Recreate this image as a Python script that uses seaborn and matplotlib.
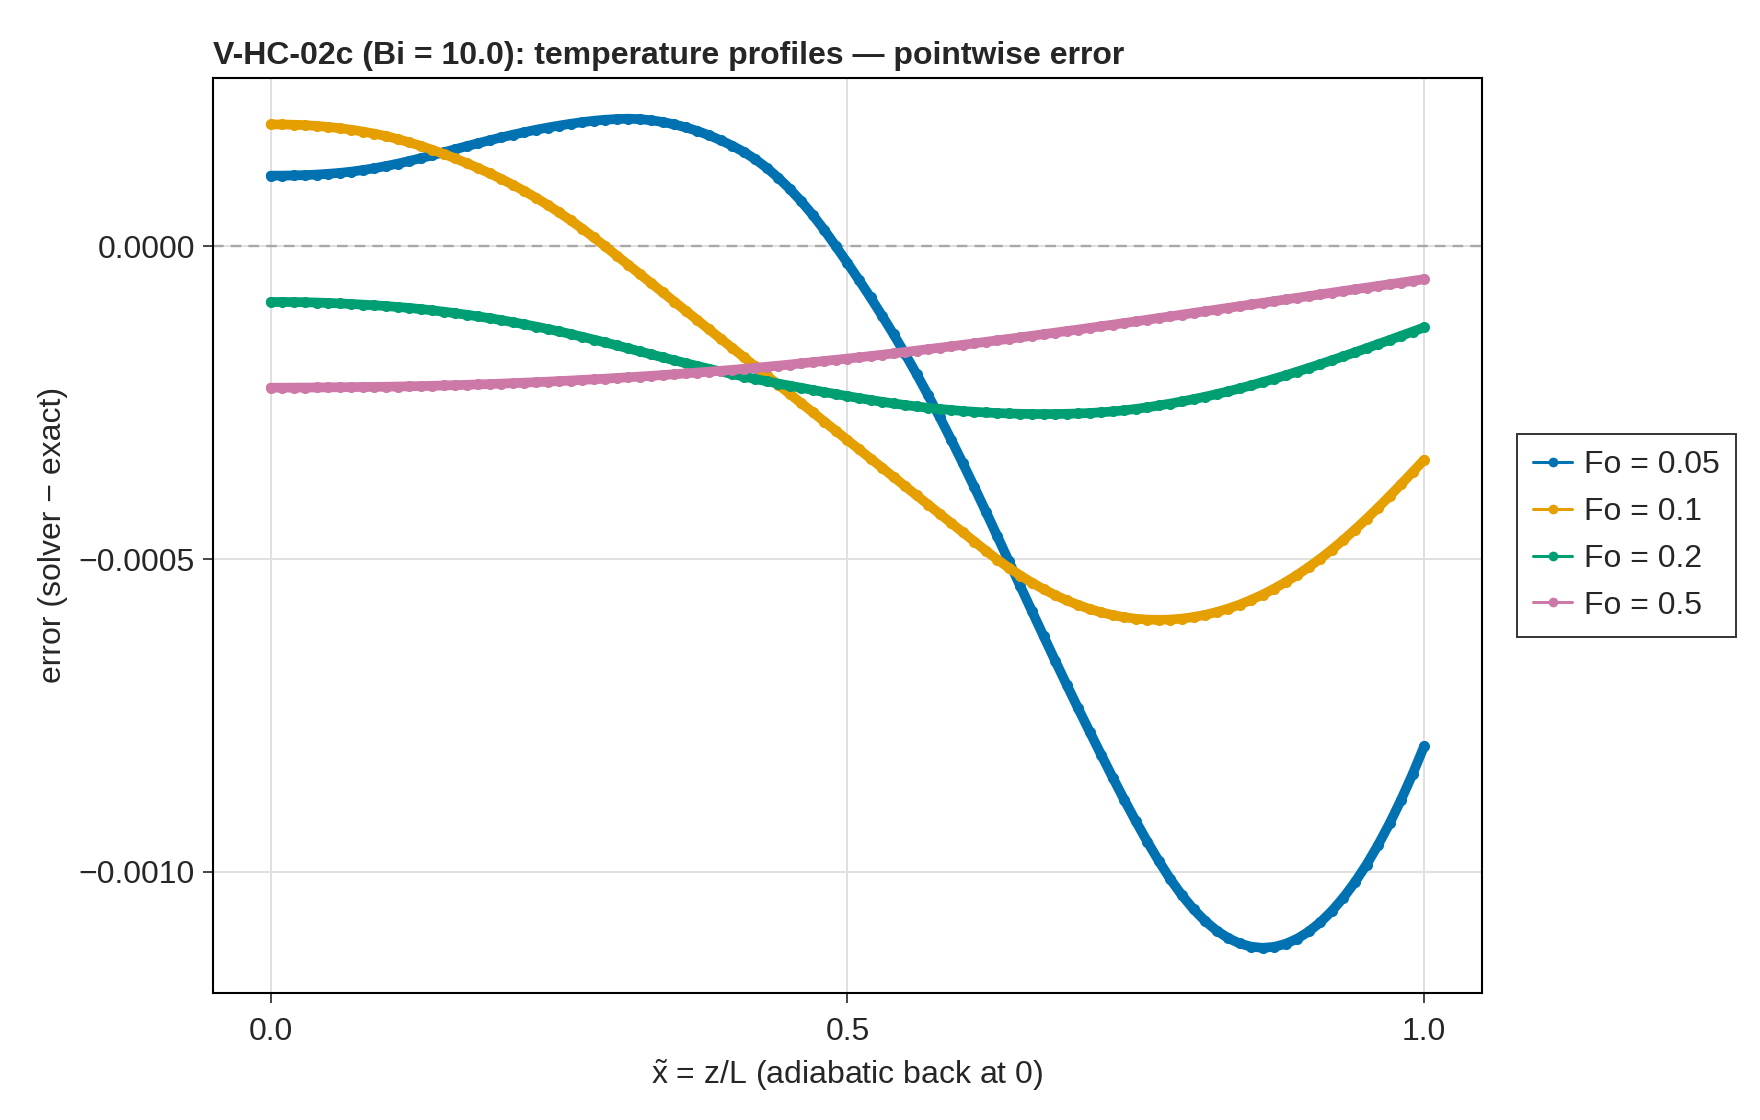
import numpy as np
import pandas as pd
import matplotlib
matplotlib.use("Agg")
import matplotlib.pyplot as plt
from matplotlib.lines import Line2D
import seaborn as sns

FONT_SIZE = 23

# sample positions x~ = z/L (solver grid, 101 nodes)
x_grid = np.round(np.linspace(0.0, 1.0, 101), 2)

# pointwise error (solver - exact), in units of 1e-4
ERR_SCALE = 1e-4

err_fo005 = [
    1.130, 1.131, 1.134, 1.139, 1.148, 1.160, 1.175, 1.195, 1.220, 1.250,
    1.284, 1.322, 1.364, 1.409, 1.456, 1.504, 1.553, 1.602, 1.650, 1.697,
    1.742, 1.785, 1.826, 1.864, 1.899, 1.931, 1.960, 1.986, 2.008, 2.025,
    2.036, 2.041, 2.034, 2.016, 1.988, 1.950, 1.902, 1.844, 1.776, 1.698,
    1.610, 1.512, 1.394, 1.256, 1.097, 0.918, 0.719, 0.500, 0.260, 0.000,
    -0.266, -0.538, -0.818, -1.108, -1.408, -1.720, -2.045, -2.383, -2.733, -3.095,
    -3.468, -3.851, -4.242, -4.639, -5.039, -5.439, -5.837, -6.232, -6.623, -7.009,
    -7.389, -7.762, -8.132, -8.496, -8.851, -9.194, -9.522, -9.832, -10.122, -10.378,
    -10.600, -10.788, -10.942, -11.062, -11.148, -11.200, -11.218, -11.202, -11.153, -11.071,
    -10.956, -10.808, -10.627, -10.413, -10.166, -9.886, -9.573, -9.227, -8.848, -8.436, -7.991,
]

err_fo01 = [
    1.950, 1.949, 1.945, 1.937, 1.925, 1.909, 1.889, 1.865, 1.835, 1.802,
    1.763, 1.716, 1.664, 1.607, 1.545, 1.478, 1.406, 1.330, 1.250, 1.166,
    1.077, 0.983, 0.883, 0.777, 0.664, 0.543, 0.417, 0.284, 0.144, 0.000,
    -0.148, -0.295, -0.443, -0.590, -0.738, -0.885, -1.033, -1.180, -1.328, -1.475,
    -1.623, -1.770, -1.918, -2.065, -2.213, -2.360, -2.508, -2.655, -2.803, -2.950,
    -3.098, -3.245, -3.393, -3.540, -3.688, -3.835, -3.983, -4.130, -4.278, -4.425,
    -4.573, -4.720, -4.867, -5.009, -5.141, -5.265, -5.379, -5.483, -5.577, -5.661,
    -5.735, -5.799, -5.853, -5.897, -5.931, -5.955, -5.969, -5.973, -5.968, -5.953,
    -5.928, -5.893, -5.848, -5.793, -5.728, -5.653, -5.568, -5.473, -5.368, -5.253,
    -5.128, -4.993, -4.848, -4.693, -4.529, -4.357, -4.178, -3.993, -3.803, -3.609, -3.412,
]

err_fo02 = [
    -0.890, -0.890, -0.891, -0.894, -0.899, -0.905, -0.913, -0.922, -0.932, -0.943,
    -0.955, -0.969, -0.985, -1.003, -1.023, -1.045, -1.069, -1.094, -1.121, -1.150,
    -1.180, -1.213, -1.247, -1.283, -1.321, -1.360, -1.402, -1.446, -1.491, -1.537,
    -1.584, -1.632, -1.680, -1.728, -1.776, -1.823, -1.869, -1.914, -1.958, -2.001,
    -2.042, -2.082, -2.121, -2.158, -2.194, -2.228, -2.263, -2.297, -2.331, -2.363,
    -2.395, -2.427, -2.457, -2.486, -2.513, -2.538, -2.561, -2.582, -2.601, -2.618,
    -2.633, -2.646, -2.657, -2.666, -2.673, -2.678, -2.681, -2.682, -2.681, -2.678,
    -2.673, -2.665, -2.654, -2.640, -2.622, -2.600, -2.574, -2.545, -2.514, -2.480,
    -2.444, -2.405, -2.363, -2.319, -2.272, -2.223, -2.171, -2.117, -2.061, -2.003,
    -1.944, -1.883, -1.821, -1.758, -1.694, -1.629, -1.563, -1.497, -1.430, -1.363, -1.296,
]

err_fo05 = [
    -2.260, -2.260, -2.259, -2.258, -2.257, -2.255, -2.253, -2.251, -2.249, -2.247,
    -2.245, -2.242, -2.238, -2.234, -2.230, -2.225, -2.220, -2.214, -2.208, -2.202,
    -2.195, -2.188, -2.180, -2.172, -2.164, -2.155, -2.146, -2.136, -2.126, -2.116,
    -2.105, -2.094, -2.082, -2.070, -2.058, -2.045, -2.032, -2.018, -2.004, -1.990,
    -1.975, -1.959, -1.942, -1.925, -1.908, -1.890, -1.871, -1.852, -1.833, -1.814,
    -1.795, -1.775, -1.754, -1.733, -1.712, -1.690, -1.667, -1.644, -1.621, -1.598,
    -1.575, -1.551, -1.527, -1.503, -1.479, -1.455, -1.430, -1.405, -1.380, -1.355,
    -1.330, -1.304, -1.278, -1.252, -1.226, -1.200, -1.173, -1.146, -1.119, -1.092,
    -1.065, -1.038, -1.011, -0.984, -0.957, -0.930, -0.903, -0.876, -0.849, -0.822,
    -0.795, -0.768, -0.741, -0.714, -0.687, -0.660, -0.633, -0.606, -0.579, -0.552, -0.525,
]

fo_labels = ["Fo = 0.05", "Fo = 0.1", "Fo = 0.2", "Fo = 0.5"]
fo_colors = ["#0072B2", "#E69F00", "#009E73", "#CC79A7"]

x_ticks = [0.0, 0.5, 1.0]
x_tick_labels = ["0.0", "0.5", "1.0"]
y_ticks = [0.0, -0.0005, -0.0010]
y_tick_labels = ["0.0000", "\u22120.0005", "\u22120.0010"]

# long-form table for seaborn
frames = []
for label, vals in zip(fo_labels, [err_fo005, err_fo01, err_fo02, err_fo05]):
    frames.append(pd.DataFrame({"x": x_grid, "err": np.array(vals) * ERR_SCALE, "Fo": label}))
df = pd.concat(frames, ignore_index=True)

sns.set_style("white")
plt.rcParams["font.family"] = ["Liberation Sans", "DejaVu Sans"]
plt.rcParams["mathtext.fontset"] = "custom"
plt.rcParams["mathtext.rm"] = "Liberation Sans"

fig = plt.figure(figsize=(17.6, 11.2), dpi=100)
ax = fig.add_axes([0.121, 0.1134, 0.721, 0.8174])

ax.axhline(0.0, color="#a8a8a8", linestyle=(0, (4.5, 3)), linewidth=1.7, zorder=2)

sns.lineplot(data=df, x="x", y="err", hue="Fo", hue_order=fo_labels,
             palette=dict(zip(fo_labels, fo_colors)), marker="o", markersize=8,
             markeredgewidth=0, linewidth=7, estimator=None, sort=False,
             legend=False, ax=ax, zorder=3)

ax.set_xlim(-0.05, 1.05)
ax.set_ylim(-0.001194, 0.000270)
ax.set_xticks(x_ticks)
ax.set_xticklabels(x_tick_labels)
ax.set_yticks(y_ticks)
ax.set_yticklabels(y_tick_labels)
ax.grid(True, color="#e0e0e0", linewidth=1.4, zorder=0)
ax.set_axisbelow(True)
for sp in ax.spines.values():
    sp.set_color("black")
    sp.set_linewidth(1.5)
ax.tick_params(direction="out", length=7, width=1.2, labelsize=FONT_SIZE,
               bottom=True, left=True)
ax.tick_params(axis="x", pad=10.5)
ax.tick_params(axis="y", pad=6)

ax.set_xlabel("$\\tilde{\\mathrm{x}}$ = z/L (adiabatic back at 0)", fontsize=FONT_SIZE, labelpad=7)
ax.set_ylabel("error (solver \u2212 exact)", fontsize=FONT_SIZE, labelpad=8)
ax.set_title("V-HC-02c (Bi = 10.0): temperature profiles \u2014 pointwise error",
             loc="left", fontsize=FONT_SIZE, fontweight="bold", pad=10)

handles = [Line2D([], [], color=c, linewidth=2.2, marker="o", markersize=7,
                  markeredgewidth=0) for c in fo_colors]
leg = ax.legend(handles, fo_labels, loc="center left", bbox_to_anchor=(1.028, 0.5),
                fontsize=FONT_SIZE, frameon=True, fancybox=False, edgecolor="black",
                handlelength=1.2, handletextpad=0.38, labelspacing=0.53,
                borderpad=0.5, borderaxespad=0)
leg.get_frame().set_linewidth(1.4)

fig.savefig("out.png", dpi=100)
plt.close(fig)
